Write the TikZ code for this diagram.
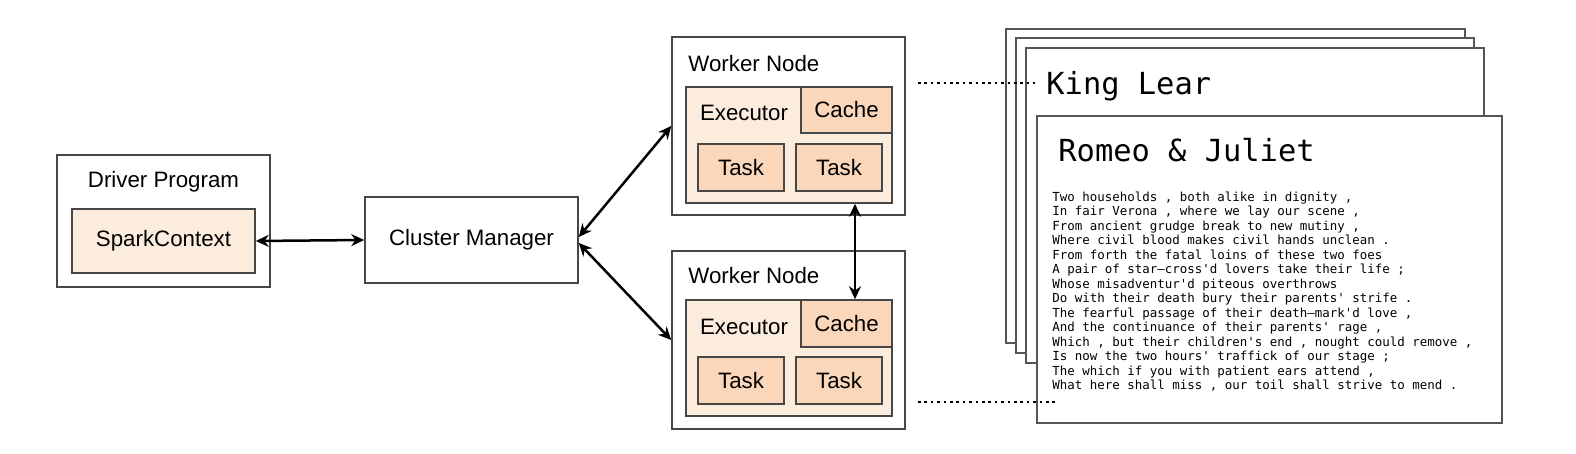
\documentclass[tikz,border=0pt]{standalone}
\usepackage{fontspec}
\setmainfont{Liberation Sans}
\newfontfamily\monofont[Ligatures=ResetAll]{DejaVu Sans Mono}
\usetikzlibrary{arrows.meta,shadows,calc}
\definecolor{execfill}{HTML}{FCECDD}
\definecolor{taskfill}{HTML}{FAD7BA}
\definecolor{boxline}{HTML}{474747}
\definecolor{pageline}{HTML}{555555}
\begin{document}
\begin{tikzpicture}[x=0.5pt,y=-0.5pt,
  sans/.style={font=\fontsize{11.15}{13}\selectfont},
  outerbox/.style={draw=boxline, line width=0.75pt, fill=white, inner sep=0, sans,
    drop shadow={shadow xshift=0.7pt, shadow yshift=-0.7pt, opacity=0.25, fill=black}},
  execbox/.style={draw=boxline, line width=0.75pt, fill=execfill, inner sep=0, sans},
  taskbox/.style={draw=boxline, line width=0.75pt, fill=taskfill, inner sep=0, sans,
    drop shadow={shadow xshift=0.5pt, shadow yshift=-0.5pt, opacity=0.2, fill=black}},
  lbl/.style={inner sep=0, sans},
  biarrow/.style={{Stealth[length=6.5pt,width=6pt]}-{Stealth[length=6.5pt,width=6pt]}, line width=1.25pt},
  dotline/.style={line width=1.3pt, dash pattern=on 1.3pt off 1.9pt},
  page/.style={draw=pageline, line width=0.6pt, fill=white},
  titletext/.style={inner sep=0, font=\monofont\fontsize{15.2}{18}\selectfont},
  bodytext/.style={inner sep=0, align=left, font=\monofont\fontsize{6.23}{7.25}\selectfont}
]
\useasboundingbox (0,0) rectangle (1576,454);

% Driver
\node[outerbox, minimum width=106.5pt, minimum height=66pt] (dp) at (163.5,221) {};
\node[lbl] (dpl) at (163.5,182) {Driver Program};
\node[execbox, minimum width=91.5pt, minimum height=32pt] (sc) at (163.5,241) {SparkContext};

% Cluster manager
\node[outerbox, minimum width=106.5pt, minimum height=43pt] (cm) at (471.5,240) {Cluster Manager};

% Worker top
\node[outerbox, minimum width=116.5pt, minimum height=89pt] (w1) at (788.5,126) {};
\node[lbl, anchor=west] (w1l) at (688,64) {Worker Node};
\node[execbox, minimum width=103pt, minimum height=58pt] (e1) at (789,145) {};
\node[lbl] (e1l) at (744,113) {Executor};
\node[taskbox, minimum width=45.5pt, minimum height=23pt] (c1) at (846.5,110) {Cache};
\node[taskbox, minimum width=43pt, minimum height=23.5pt] (t1a) at (741,167.5) {Task};
\node[taskbox, minimum width=43pt, minimum height=23.5pt] (t1b) at (839,167.5) {Task};

% Worker bottom
\node[outerbox, minimum width=116.5pt, minimum height=89pt] (w2) at (788.5,340) {};
\node[lbl, anchor=west] (w2l) at (688,276) {Worker Node};
\node[execbox, minimum width=103pt, minimum height=58pt] (e2) at (789,358) {};
\node[lbl] (e2l) at (744,327) {Executor};
\node[taskbox, minimum width=45.5pt, minimum height=23.5pt] (c2) at (846.5,323.5) {Cache};
\node[taskbox, minimum width=43pt, minimum height=23.5pt] (t2a) at (741,380.5) {Task};
\node[taskbox, minimum width=43pt, minimum height=23.5pt] (t2b) at (839,380.5) {Task};

% Connectors
\draw[biarrow] (sc.east) -- (cm.west);
\draw[biarrow] ([yshift=1.5pt]cm.east) -- (w1.west);
\draw[biarrow] ([yshift=-1.5pt]cm.east) -- (w2.west);
\draw[biarrow] ($(c2.north |- e1.south)+(8.5,0)$) -- ($(c2.north)+(8.5,0)$);

% Pages
\draw[page] (1006,29) rectangle (1465,343);
\draw[page] (1016,38) rectangle (1474,353);
\draw[page] (1026,48) rectangle (1484,363);
\node[titletext, anchor=base west] (kl) at (1046,95) {King Lear};
\draw[page] (1037,116) rectangle (1502,423);
\node[titletext, anchor=base west] (rj) at (1058,162) {Romeo \& Juliet};
\node[bodytext, anchor=north west] (poem) at (1052,191.5) {Two households , both alike in dignity ,\\
In fair Verona , where we lay our scene ,\\
From ancient grudge break to new mutiny ,\\
Where civil blood makes civil hands unclean .\\
From forth the fatal loins of these two foes\\
A pair of star–cross'd lovers take their life ;\\
Whose misadventur'd piteous overthrows\\
Do with their death bury their parents' strife .\\
The fearful passage of their death–mark'd love ,\\
And the continuance of their parents' rage ,\\
Which , but their children's end , nought could remove ,\\
Is now the two hours' traffick of our stage ;\\
The which if you with patient ears attend ,\\
What here shall miss , our toil shall strive to mend .};

% Dotted leaders
\coordinate (d1s) at (918,83);
\coordinate (d1e) at (1035,83);
\coordinate (d2s) at (918,402);
\coordinate (d2e) at (1058,402);
\draw[dotline] (d1s) -- (d1e);
\draw[dotline] (d2s) -- (d2e);
\end{tikzpicture}
\end{document}
